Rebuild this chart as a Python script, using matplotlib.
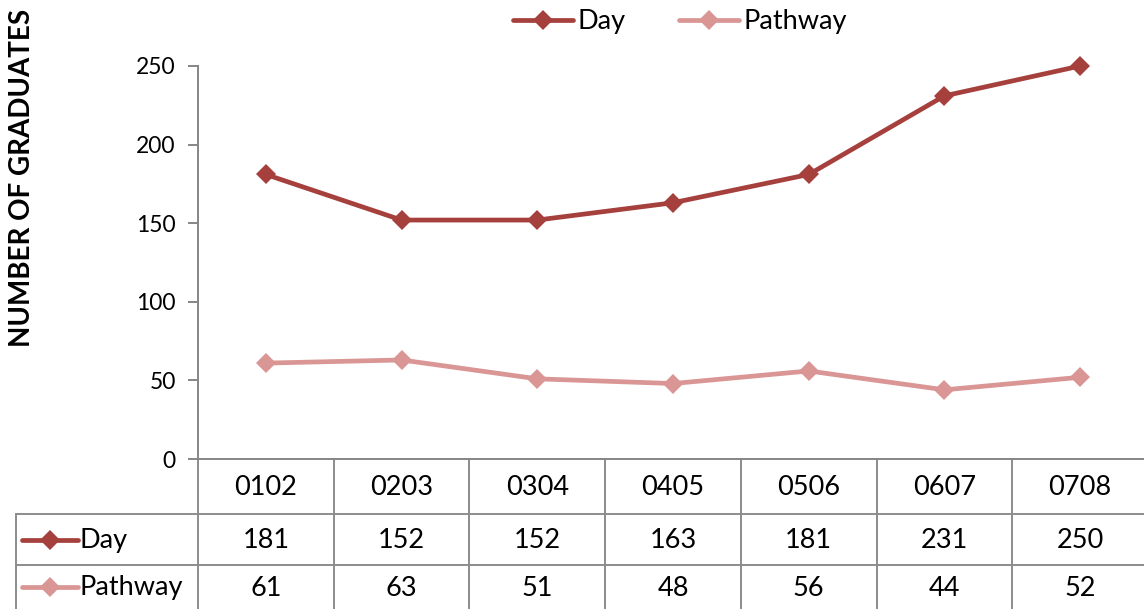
import matplotlib
matplotlib.use("Agg")
import matplotlib.pyplot as plt
from matplotlib.lines import Line2D
from matplotlib.transforms import blended_transform_factory

categories = ["0102", "0203", "0304", "0405", "0506", "0607", "0708"]
day = [181, 152, 152, 163, 181, 231, 250]
pathway = [61, 63, 51, 48, 56, 44, 52]
yticks = [0, 50, 100, 150, 200, 250]
series_names = ["Day", "Pathway"]
colors = ["#A5403D", "#D99694"]
ylabel = "NUMBER OF GRADUATES"

plt.rcParams['font.family'] = ['Lato', 'DejaVu Sans']

W, H = 1144, 609
fig = plt.figure(figsize=(W / 100, H / 100), dpi=100)

# overlay in pixel coordinates (y down)
ov = fig.add_axes([0, 0, 1, 1])
ov.set_xlim(0, W)
ov.set_ylim(H, 0)
ov.axis("off")

x0, x1 = 198, 1148
ytop, ybot = 66, 459
ax = fig.add_axes([x0 / W, (H - ybot) / H, (x1 - x0) / W, (ybot - ytop) / H])
ax.set_xlim(-0.5, len(categories) - 0.5)
ax.set_ylim(0, 250)
xs = list(range(len(categories)))
LW, MS = 3.4, 10
for vals, c, name in zip([day, pathway], colors, series_names):
    ax.plot(xs, vals, color=c, lw=LW, marker="D", markersize=MS,
            markeredgewidth=0, label=name, solid_joinstyle="round",
            solid_capstyle="round", clip_on=False, zorder=3)
ax.set_yticks(yticks)
ax.set_xticks([])
gray = "#868686"
for s in ["top", "right"]:
    ax.spines[s].set_visible(False)
ax.spines["left"].set_color(gray)
ax.spines["bottom"].set_color(gray)
ax.spines["left"].set_linewidth(1.4)
ax.spines["bottom"].set_linewidth(1.4)
ax.tick_params(axis="y", direction="out", length=7, width=1.4, color=gray,
               labelsize=16.5, pad=9, labelcolor="black")
ax.patch.set_alpha(0)

# y label
fig.text(22 / W, 1 - 178 / H, ylabel, rotation=90, ha="center", va="center",
         fontsize=20, fontweight="bold")

# legend
fig.legend(loc="center", bbox_to_anchor=(680 / W, 1 - 22 / H), ncol=2,
           frameon=False, fontsize=19.5, handlelength=2.2, handletextpad=0.15,
           columnspacing=2.0)

# data table
tr = blended_transform_factory(ax.transData, ov.transData)
lc = "#8c8c8c"
lw = 1.4
row_b = [459, 514, 565, 620]
n = len(categories)
for i in range(n + 1):
    ov.plot([i - 0.5, i - 0.5], [row_b[0], row_b[-1]], color=lc, lw=lw,
            transform=tr, clip_on=False)
for yb in row_b[1:3]:
    ov.plot([16, W], [yb, yb], color=lc, lw=lw, clip_on=False)
ov.plot([16, 16], [row_b[1], row_b[-1]], color=lc, lw=lw, clip_on=False)

FS = 19.5
for i, cat in enumerate(categories):
    ov.text(i, (row_b[0] + row_b[1]) / 2 + 1, cat, transform=tr,
            ha="center", va="center", fontsize=FS)
    ov.text(i, (row_b[1] + row_b[2]) / 2 + 1, str(day[i]), transform=tr,
            ha="center", va="center", fontsize=FS)
    ov.text(i, (row_b[2] + 609) / 2 + 2, str(pathway[i]), transform=tr,
            ha="center", va="center", fontsize=FS)

rows_y = [(row_b[1] + row_b[2]) / 2, (row_b[2] + 609) / 2]
for yy, c, name in zip(rows_y, colors, series_names):
    ov.add_line(Line2D([22, 78], [yy, yy], color=c, lw=LW,
                       solid_capstyle="round"))
    ov.add_line(Line2D([50], [yy], color=c, marker="D", markersize=MS,
                       markeredgewidth=0))
    ov.text(80, yy + 1, name, ha="left", va="center", fontsize=FS)

fig.savefig("out.png", dpi=100)
